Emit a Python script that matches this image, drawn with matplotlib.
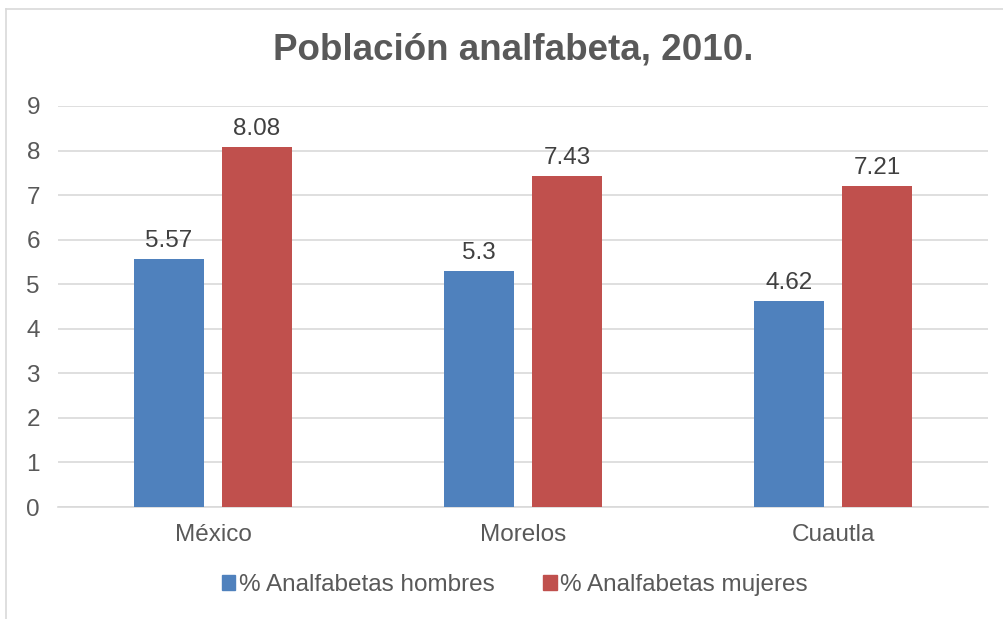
import matplotlib
matplotlib.use("Agg")
import matplotlib.pyplot as plt
import numpy as np
from matplotlib.lines import Line2D
from matplotlib.patches import Patch

categories = ["México", "Morelos", "Cuautla"]
hombres = [5.57, 5.3, 4.62]
mujeres = [8.08, 7.43, 7.21]
series_names = ["% Analfabetas hombres", "% Analfabetas mujeres"]
title = "Población analfabeta, 2010."

plt.rcParams['font.family'] = ['Liberation Sans', 'DejaVu Sans']
txt = '#595959'
blue = '#4f81bd'
red = '#c0504d'
fs = 17.5

fig = plt.figure(figsize=(10.04, 6.19), dpi=100)
ax = fig.add_axes([58/1004, 1-507/619, 930/1004, 401/619])

x = np.arange(len(categories))
w = 0.226
off = 0.142
b1 = ax.bar(x - off, hombres, w, color=blue, zorder=3)
b2 = ax.bar(x + off, mujeres, w, color=red, zorder=3)
for bars, vals in ((b1, hombres), (b2, mujeres)):
    for b, v in zip(bars, vals):
        ax.annotate(f"{v:g}", (b.get_x() + b.get_width()/2, v), xytext=(0, 5),
                    textcoords='offset points', ha='center', va='bottom',
                    fontsize=fs, color='#404040')

ax.set_xlim(-0.5, 2.5)
ax.set_ylim(0, 9)
ax.set_yticks(range(0, 10))
ax.yaxis.grid(True, color='#d9d9d9', linewidth=1.2, zorder=0)
ax.set_axisbelow(True)
for s in ['top', 'right', 'left']:
    ax.spines[s].set_visible(False)
ax.spines['bottom'].set_color('#d9d9d9')
ax.spines['bottom'].set_linewidth(1.2)
ax.tick_params(axis='both', length=0, labelsize=fs, colors=txt)
ax.tick_params(axis='y', pad=13)
ax.tick_params(axis='x', pad=12)
ax.set_xticks(x)
ax.set_xticklabels(categories)

fig.text(513/1004, 1-50/619, title, ha='center', va='center', fontsize=26.5,
         fontweight='bold', color=txt)

handles = [Patch(color=blue), Patch(color=red)]
fig.legend(handles, series_names, loc='center', bbox_to_anchor=(515/1004, 1-585/619),
           ncol=2, frameon=False, fontsize=fs, labelcolor=txt,
           handlelength=0.55, handleheight=0.55, handletextpad=0.15, columnspacing=2.0)

# outer border (left and top visible)
fig.add_artist(Line2D([6/1004, 6/1004], [0, 1-9/619], transform=fig.transFigure, color='#d9d9d9', lw=1.2))
fig.add_artist(Line2D([6/1004, 1], [1-9/619, 1-9/619], transform=fig.transFigure, color='#d9d9d9', lw=1.2))

fig.savefig("out.png", dpi=100)
